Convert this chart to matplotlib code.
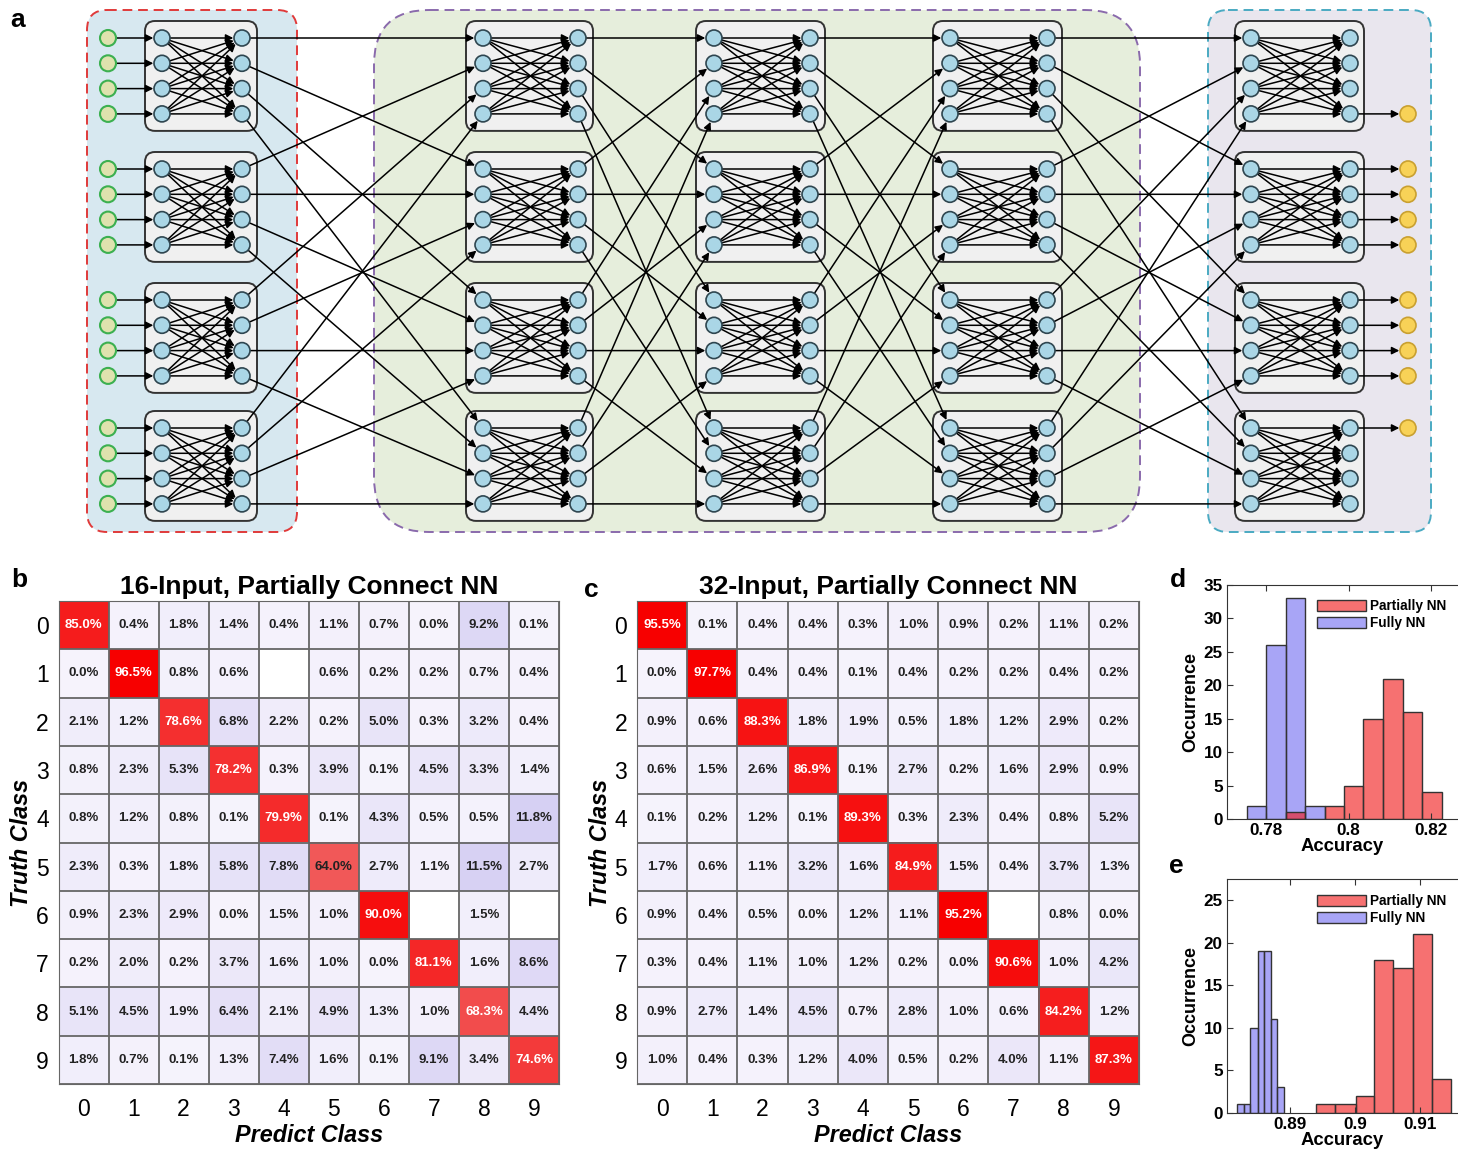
import numpy as np
import matplotlib
matplotlib.use("Agg")
import matplotlib.pyplot as plt
from matplotlib.patches import FancyArrowPatch, FancyBboxPatch, Circle

plt.rcParams['font.family'] = ['Liberation Sans', 'DejaVu Sans']

# ---- data ----
classes = ['0', '1', '2', '3', '4', '5', '6', '7', '8', '9']

# confusion matrix (%), None = empty cell
cm_16 = [
    [85.0, 0.4, 1.8, 1.4, 0.4, 1.1, 0.7, 0.0, 9.2, 0.1],
    [0.0, 96.5, 0.8, 0.6, None, 0.6, 0.2, 0.2, 0.7, 0.4],
    [2.1, 1.2, 78.6, 6.8, 2.2, 0.2, 5.0, 0.3, 3.2, 0.4],
    [0.8, 2.3, 5.3, 78.2, 0.3, 3.9, 0.1, 4.5, 3.3, 1.4],
    [0.8, 1.2, 0.8, 0.1, 79.9, 0.1, 4.3, 0.5, 0.5, 11.8],
    [2.3, 0.3, 1.8, 5.8, 7.8, 64.0, 2.7, 1.1, 11.5, 2.7],
    [0.9, 2.3, 2.9, 0.0, 1.5, 1.0, 90.0, None, 1.5, None],
    [0.2, 2.0, 0.2, 3.7, 1.6, 1.0, 0.0, 81.1, 1.6, 8.6],
    [5.1, 4.5, 1.9, 6.4, 2.1, 4.9, 1.3, 1.0, 68.3, 4.4],
    [1.8, 0.7, 0.1, 1.3, 7.4, 1.6, 0.1, 9.1, 3.4, 74.6],
]
cm_32 = [
    [95.5, 0.1, 0.4, 0.4, 0.3, 1.0, 0.9, 0.2, 1.1, 0.2],
    [0.0, 97.7, 0.4, 0.4, 0.1, 0.4, 0.2, 0.2, 0.4, 0.2],
    [0.9, 0.6, 88.3, 1.8, 1.9, 0.5, 1.8, 1.2, 2.9, 0.2],
    [0.6, 1.5, 2.6, 86.9, 0.1, 2.7, 0.2, 1.6, 2.9, 0.9],
    [0.1, 0.2, 1.2, 0.1, 89.3, 0.3, 2.3, 0.4, 0.8, 5.2],
    [1.7, 0.6, 1.1, 3.2, 1.6, 84.9, 1.5, 0.4, 3.7, 1.3],
    [0.9, 0.4, 0.5, 0.0, 1.2, 1.1, 95.2, None, 0.8, 0.0],
    [0.3, 0.4, 1.1, 1.0, 1.2, 0.2, 0.0, 90.6, 1.0, 4.2],
    [0.9, 2.7, 1.4, 4.5, 0.7, 2.8, 1.0, 0.6, 84.2, 1.2],
    [1.0, 0.4, 0.3, 1.2, 4.0, 0.5, 0.2, 4.0, 1.1, 87.3],
]

# histogram d (16-input)
d_edges = [0.7752, 0.7799, 0.7847, 0.7894, 0.7942, 0.7989, 0.8036, 0.8084, 0.8131, 0.8179, 0.8226]
d_fully = [2, 26, 33, 2, 0, 0, 0, 0, 0, 0]
d_partial = [0, 0, 1, 0, 2, 5, 15, 21, 16, 4]

# histogram e (32-input)
e_fully_edges = [0.8820, 0.8830, 0.8840, 0.8851, 0.8861, 0.8871, 0.8881, 0.8891]
e_fully = [1, 1, 10, 19, 19, 11, 3]
e_partial_edges = [0.8940, 0.8970, 0.9001, 0.9030, 0.9059, 0.9089, 0.9118, 0.9148]
e_partial = [1, 1, 2, 18, 17, 21, 4]

# network diagram layout (pixels)
col_in_x = [162, 483, 714, 950, 1251]
col_out_x = [242, 578, 810, 1047, 1350]
box_x0 = [145, 466, 696, 933, 1235]
box_x1 = [257, 593, 825, 1062, 1364]
block_y0 = [38, 169, 300, 428]
node_dy = 25.3
input_x = 108
output_x = 1408
output_nodes = [(0, 3), (1, 0), (1, 1), (1, 2), (1, 3), (2, 0), (2, 1), (2, 2), (2, 3), (3, 0)]

W, H = 1458, 1155
fig = plt.figure(figsize=(W / 100, H / 100), dpi=100)


def fax(x0, y0, x1, y1):
    return fig.add_axes([x0 / W, 1 - y1 / H, (x1 - x0) / W, (y1 - y0) / H])


# ---- panel a ----
ax = fax(0, 0, W, 540)
ax.set_xlim(0, W)
ax.set_ylim(540, 0)
ax.axis('off')

R = 8


def node_y(b, i):
    return block_y0[b] + i * node_dy


def arrow(p, q):
    ax.add_patch(FancyArrowPatch(p, q, arrowstyle='-|>', mutation_scale=11,
                                 shrinkA=R * 0.72, shrinkB=R * 0.72 + 0.5,
                                 lw=1.1, color='black', zorder=3))


def region(x0, x1, rs, ec, fc):
    ax.add_patch(FancyBboxPatch((x0, 10), x1 - x0, 522, boxstyle=f"round,pad=0,rounding_size={rs}",
                                fc=fc, ec=ec, lw=1.4, ls=(0, (5, 3)), zorder=0))


region(87, 297, 20, '#e03a3a', '#d7e8f0')
region(374, 1140, 55, '#8a6aac', '#e6eedc')
region(1208, 1431, 20, '#4aaac2', '#e9e6ee')

for c in range(5):
    for b in range(4):
        ax.add_patch(FancyBboxPatch((box_x0[c], node_y(b, 0) - 17), box_x1[c] - box_x0[c],
                                    3 * node_dy + 34, boxstyle="round,pad=0,rounding_size=10",
                                    fc='#f0f0f0', ec='#333333', lw=1.4, zorder=1))
        for i in range(4):
            for j in range(4):
                arrow((col_in_x[c], node_y(b, i)), (col_out_x[c], node_y(b, j)))
            for x in (col_in_x[c], col_out_x[c]):
                ax.add_patch(Circle((x, node_y(b, i)), R, fc='#aad6e6', ec='#2f4650', lw=1.2, zorder=5))

# inter-layer shuffle connections
for c in range(4):
    for b in range(4):
        for i in range(4):
            arrow((col_out_x[c], node_y(b, i)), (col_in_x[c + 1], node_y(i, b)))

# input nodes
for b in range(4):
    for i in range(4):
        arrow((input_x, node_y(b, i)), (col_in_x[0], node_y(b, i)))
        ax.add_patch(Circle((input_x, node_y(b, i)), R, fc='#dfe2ae', ec='#3cb050', lw=1.5, zorder=5))

# output nodes
for b, i in output_nodes:
    arrow((col_out_x[4], node_y(b, i)), (output_x, node_y(b, i)))
    ax.add_patch(Circle((output_x, node_y(b, i)), R, fc='#f8d257', ec='#c9a030', lw=1.2, zorder=5))


# ---- confusion matrices ----
def cell_color(v, diag):
    if diag:
        t = np.clip((v - 55) / 40, 0, 1)
        g = 0.45 * (1 - t)
        return (0.94 + 0.03 * t, g, g)
    t = np.clip(v / 12, 0, 1)
    base = np.array([0.965, 0.955, 0.99])
    top = np.array([0.84, 0.815, 0.955])
    return tuple(base * (1 - t) + top * t)


def draw_cm(ax, mat, title):
    rgb = np.ones((10, 10, 3))
    for i, row in enumerate(mat):
        for j, v in enumerate(row):
            if v is None:
                continue
            rgb[i, j] = cell_color(v, i == j)
            tc = 'white' if (i == j and v >= 65) else '#222222'
            ax.text(j, i, f"{v:.1f}%", ha='center', va='center', fontsize=9.5,
                    fontweight='bold', color=tc, zorder=4)
    ax.imshow(rgb, extent=(-0.5, 9.5, 9.5, -0.5), aspect='auto', interpolation='nearest')
    for k in np.arange(-0.5, 10):
        ax.axhline(k, color='#666666', lw=1.3, zorder=3)
        ax.axvline(k, color='#666666', lw=1.3, zorder=3)
    ax.set_xlim(-0.5, 9.5)
    ax.set_ylim(9.5, -0.5)
    ax.set_xticks(range(10), classes)
    ax.set_yticks(range(10), classes)
    ax.tick_params(length=0, labelsize=16.5, pad=7)
    ax.tick_params(axis='x', pad=10)
    for s in ax.spines.values():
        s.set_color('#666666')
    ax.set_xlabel('Predict Class', fontsize=16.8, fontweight='bold', fontstyle='italic', labelpad=2)
    ax.set_ylabel('Truth Class', fontsize=16.8, fontweight='bold', fontstyle='italic', labelpad=2)
    ax.set_title(title, fontsize=19, fontweight='bold', pad=5)


ax_b = fax(58.5, 601, 559, 1084)
draw_cm(ax_b, cm_16, '16-Input, Partially Connect NN')
ax_c = fax(637, 601, 1139, 1084)
draw_cm(ax_c, cm_32, '32-Input, Partially Connect NN')

# ---- histograms ----
red = (0.95, 0.1, 0.1, 0.62)
blue = (0.45, 0.43, 0.95, 0.62)


def bars(ax, edges, counts, fc, label):
    edges = np.array(edges)
    counts = np.array(counts)
    keep = counts > 0
    ax.bar(edges[:-1][keep], counts[keep], width=np.diff(edges)[keep], align='edge',
           fc=fc, ec='#333333', lw=1.0, label=label)


def style_hist(ax, xticks, xlabels, yticks, legend_y):
    ax.set_xticks(xticks, xlabels, fontweight='bold')
    ax.set_yticks(yticks, [str(v) for v in yticks], fontweight='bold')
    ax.tick_params(direction='in', top=True, right=False, length=4, labelsize=12.3, pad=3,
                   color='#333333')
    ax.spines['right'].set_visible(False)
    for s in ('top', 'left', 'bottom'):
        ax.spines[s].set_color('#333333')
    ax.set_xlabel('Accuracy', fontsize=13.3, fontweight='bold', labelpad=0)
    ax.set_ylabel('Occurrence', fontsize=13, fontweight='bold', labelpad=3)
    h, l = ax.get_legend_handles_labels()
    order = [l.index('Partially NN'), l.index('Fully NN')]
    ax.legend([h[k] for k in order], [l[k] for k in order], loc='upper left',
              bbox_to_anchor=(1317 / W, 1 - legend_y / H), bbox_transform=fig.transFigure,
              frameon=False, prop={'size': 9.8, 'weight': 'bold'}, handlelength=3.6,
              handleheight=0.9, handletextpad=0.3, labelspacing=0.25, borderpad=0,
              borderaxespad=0)


ax_d = fax(1227, 585, W, 819)
bars(ax_d, d_edges, d_fully, blue, 'Fully NN')
bars(ax_d, d_edges, d_partial, red, 'Partially NN')
ax_d.set_xlim(0.7704, 0.8266)
ax_d.set_ylim(0, 35)
style_hist(ax_d, [0.78, 0.8, 0.82], ['0.78', '0.8', '0.82'], list(range(0, 36, 5)), 599)

ax_e = fax(1227, 879, W, 1113)
bars(ax_e, e_fully_edges, e_fully, blue, 'Fully NN')
bars(ax_e, e_partial_edges, e_partial, red, 'Partially NN')
ax_e.set_xlim(0.8804, 0.9158)
ax_e.set_ylim(0, 27.5)
style_hist(ax_e, [0.89, 0.9, 0.91], ['0.89', '0.9', '0.91'], list(range(0, 26, 5)), 894)

# panel letters
for letter, x, y in [('a', 18, 20), ('b', 19, 580), ('c', 591, 590), ('d', 1178, 580), ('e', 1176, 866)]:
    fig.text(x / W, 1 - y / H, letter, fontsize=19, fontweight='bold', ha='center', va='center')

fig.savefig('out.png', dpi=100, facecolor='white')
